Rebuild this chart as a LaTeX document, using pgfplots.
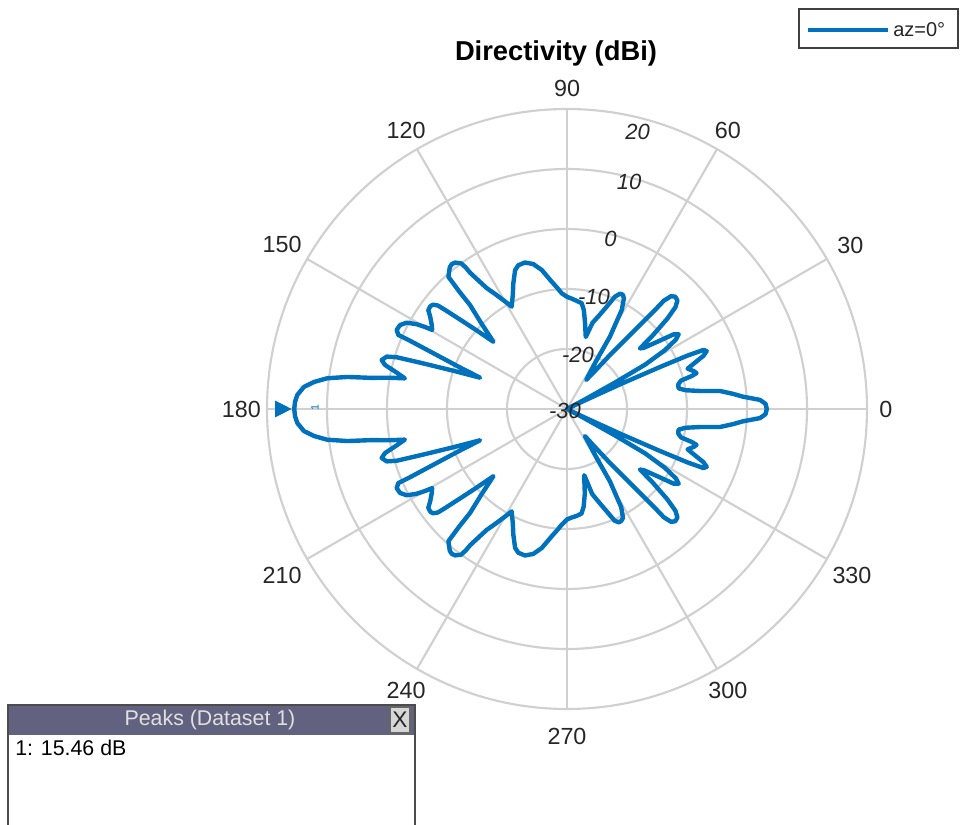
\documentclass[border=0pt]{standalone}
\usepackage{fontspec}
\setmainfont{Liberation Sans}
\usepackage{pgfplots}
\pgfplotsset{compat=1.18}
\usepackage{pgfplotstable}
\definecolor{mblue}{RGB}{0,114,189}
\definecolor{gridc}{RGB}{208,208,208}
\definecolor{labc}{RGB}{38,38,38}
\definecolor{hdr}{RGB}{98,98,128}
\definecolor{btn}{RGB}{214,214,214}

\pgfdeclareplotmark{peaktri}{%
  \pgfpathmoveto{\pgfpoint{-1.9pt}{0pt}}%
  \pgfpathlineto{\pgfpoint{-14.4pt}{6.3pt}}%
  \pgfpathlineto{\pgfpoint{-14.4pt}{-6.3pt}}%
  \pgfpathclose
  \pgfusepathqfill}

\pgfplotstableread{
a d
0 3.3
1.5 3.1
2.7 2.2
4.0 -0.6
5.2 -2.2
6.7 -4.3
7.7 -7.6
9.0 -10.0
10.5 -11.1
12.5 -11.0
14.0 -10.4
14.8 -8.5
15.5 -7.6
16.5 -7.9
18.5 -8.8
20.0 -7.2
21.3 -5.6
22.5 -4.8
23.4 -5.2
23.9 -8
24.3 -13
24.9 -20
25.8 -27
27.0 -30
28.0 -27
28.8 -21
29.6 -15
31.0 -11
32.5 -8.5
33.8 -7.6
35.0 -8.3
36.5 -11
38.5 -13.6
39.7 -14.2
40.5 -11.5
42.0 -7.5
43.2 -5.2
44.5 -4.2
46.0 -4.0
47.3 -4.4
48.2 -5.8
48.4 -8.3
49.4 -13.0
51.5 -18.5
54.0 -22.5
56.5 -24.2
58.8 -20.4
59.3 -16.0
61.1 -11.1
62.8 -9.25
64.0 -8.8
65.3 -8.85
66.9 -9.65
68.8 -11.7
71.0 -13.5
73.5 -15.0
75.4 -17.6
76.5 -16.8
78.1 -15.4
80.3 -13.3
82.1 -12.2
84.9 -11.9
87.5 -11.6
90 -11.3
92.6 -10.7
94.5 -9.8
96.9 -8.6
100.3 -6.45
103.1 -5.2
106.0 -4.6
108.7 -4.7
110.5 -5.3
112.5 -6.8
113.1 -7.2
115.5 -9.0
118.4 -10.6
120.3 -9.0
121.8 -7.6
123.6 -5.8
125.4 -2.2
125.6 -1.0
126.0 0.0
127.4 0.72
128.5 0.85
129.6 0.65
130.8 0.1
131.9 -0.4
132.5 -3.3
133.0 -6.3
135.0 -9.8
137.6 -13.4
139.0 -10.0
139.9 -7.4
140.9 -3.8
141.3 -2.4
142.1 -1.7
143.0 -1.5
144.5 -1.6
146.0 -2.5
148.0 -3.4
149.6 -3.95
150.0 -2.65
150.6 -1.2
151.7 0.34
153.3 1.15
155.1 1.3
156.3 0.7
156.5 -1.4
157.5 -6.5
158.7 -10.6
160.2 -14.6
161.4 -10.0
162.5 -4.3
163.1 -0.33
163.8 1.3
165.2 1.95
166.4 1.2
167.8 -0.8
169.3 -2.5
170.0 0.0
171.0 3.2
171.7 7.0
172.7 10.3
173.9 12.4
175.2 14.0
177.0 15.0
178.5 15.35
180 15.46
181.5 15.35
183.0 15.0
184.8 14.0
186.1 12.4
187.3 10.3
188.3 7.0
189.0 3.2
190.0 0.0
190.7 -2.5
192.2 -0.8
193.6 1.2
194.8 1.95
196.2 1.3
196.9 -0.33
197.5 -4.3
198.6 -10.0
199.8 -14.6
201.3 -10.6
202.5 -6.5
203.5 -1.4
203.7 0.7
204.9 1.3
206.7 1.15
208.3 0.34
209.4 -1.2
210.0 -2.65
210.4 -3.95
212.0 -3.4
214.0 -2.5
215.5 -1.6
217.0 -1.5
217.9 -1.7
218.7 -2.4
219.1 -3.8
220.1 -7.4
221.0 -10.0
222.4 -13.4
225.0 -9.8
227.0 -6.3
227.5 -3.3
228.1 -0.4
229.2 0.1
230.4 0.65
231.5 0.85
232.6 0.72
234.0 0.0
234.4 -1.0
234.6 -2.2
236.4 -5.8
238.2 -7.6
239.7 -9.0
241.6 -10.6
244.5 -9.0
246.9 -7.2
247.5 -6.8
249.5 -5.3
251.3 -4.7
254.0 -4.6
256.9 -5.2
259.7 -6.45
263.1 -8.6
265.5 -9.8
267.4 -10.7
270 -11.6
272.5 -11.9
275.1 -12.1
277.9 -12.4
279.7 -13.5
281.9 -15.6
283.5 -17.6
284.6 -18.6
286.5 -15.2
289.0 -13.5
291.2 -11.7
293.1 -9.75
294.7 -9.2
296.0 -9.3
297.2 -9.6
298.9 -11.3
300.7 -16.0
301.2 -20.4
303.5 -24.6
306.0 -22.5
308.5 -18.5
310.6 -13.0
311.6 -8.3
311.8 -5.8
312.7 -4.4
314.0 -4.0
315.5 -4.2
316.8 -5.2
318.0 -7.5
319.5 -11.5
320.3 -14.2
321.5 -13.6
323.5 -11
325.0 -8.3
326.2 -7.6
327.5 -8.5
329.0 -11
330.4 -15
331.2 -21
332.0 -27
333.0 -30
334.2 -27
335.1 -20
335.7 -13
336.1 -8
336.6 -5.2
337.5 -4.8
338.7 -5.6
340.0 -7.2
341.5 -8.8
343.5 -7.9
344.5 -7.6
345.2 -8.5
346.0 -10.4
347.5 -11.0
349.5 -11.1
351.0 -10.0
352.3 -7.6
353.3 -4.3
354.8 -2.2
356.0 -0.6
357.3 2.2
358.5 3.1
360 3.3
}\patterndata

\pgfplotstableread{
a d
180 15.46
}\peakdata

\begin{document}
\begin{tikzpicture}
\begin{axis}[name=ax, x=0.75pt, y=0.75pt,
  xmin=-567, xmax=394, ymin=-416, ymax=409,
  enlargelimits=false, axis lines=none, clip=false]

% grid
\draw[gridc, line width=1.6pt] (axis cs:0,0) circle[radius=45pt];
\draw[gridc, line width=1.6pt] (axis cs:0,0) circle[radius=90pt];
\draw[gridc, line width=1.6pt] (axis cs:0,0) circle[radius=135pt];
\draw[gridc, line width=1.6pt] (axis cs:0,0) circle[radius=180pt];
\draw[gridc, line width=1.6pt] (axis cs:0,0) circle[radius=225pt];
\draw[gridc, line width=1.6pt] (axis cs:300,0) -- (axis cs:-300,0);
\draw[gridc, line width=1.6pt] (axis cs:0,300) -- (axis cs:0,-300);
\draw[gridc, line width=1.6pt] (axis cs:259.81,150) -- (axis cs:-259.81,-150);
\draw[gridc, line width=1.6pt] (axis cs:150,259.81) -- (axis cs:-150,-259.81);
\draw[gridc, line width=1.6pt] (axis cs:-150,259.81) -- (axis cs:150,-259.81);
\draw[gridc, line width=1.6pt] (axis cs:-259.81,150) -- (axis cs:259.81,-150);

% pattern
\addplot[mblue, line width=3.3pt, line join=round, line cap=round]
  table[x expr={(\thisrow{d}+30)*6*cos(\thisrow{a})},
        y expr={(\thisrow{d}+30)*6*sin(\thisrow{a})}] {\patterndata};

% peak marker
\addplot[mblue, only marks, mark=peaktri]
  table[x expr={(\thisrow{d}+30)*6*cos(\thisrow{a})},
        y expr={(\thisrow{d}+30)*6*sin(\thisrow{a})}] {\peakdata};
\node[text=mblue, font=\fontsize{8}{9}\selectfont, rotate=90] at (axis cs:-252,1) {1};

% angle labels
\node[font=\fontsize{17.5}{19}\selectfont, text=labc, inner sep=0pt, anchor=180] at (axis cs:312,0) {0};
\node[font=\fontsize{17.5}{19}\selectfont, text=labc, inner sep=0pt, anchor=210] at (axis cs:270.2,156) {30};
\node[font=\fontsize{17.5}{19}\selectfont, text=labc, inner sep=0pt, anchor=240] at (axis cs:156,270.2) {60};
\node[font=\fontsize{17.5}{19}\selectfont, text=labc, inner sep=0pt, anchor=270] at (axis cs:0,312) {90};
\node[font=\fontsize{17.5}{19}\selectfont, text=labc, inner sep=0pt, anchor=300] at (axis cs:-156,270.2) {120};
\node[font=\fontsize{17.5}{19}\selectfont, text=labc, inner sep=0pt, anchor=330] at (axis cs:-270.2,156) {150};
\node[font=\fontsize{17.5}{19}\selectfont, text=labc, inner sep=0pt, anchor=0] at (axis cs:-306,0) {180};
\node[font=\fontsize{17.5}{19}\selectfont, text=labc, inner sep=0pt, anchor=30] at (axis cs:-270.2,-158) {210};
\node[font=\fontsize{17.5}{19}\selectfont, text=labc, inner sep=0pt, anchor=60] at (axis cs:-156,-273) {240};
\node[font=\fontsize{17.5}{19}\selectfont, text=labc, inner sep=0pt, anchor=90] at (axis cs:0,-319) {270};
\node[font=\fontsize{17.5}{19}\selectfont, text=labc, inner sep=0pt, anchor=120] at (axis cs:156,-273) {300};
\node[font=\fontsize{17.5}{19}\selectfont, text=labc, inner sep=0pt, anchor=150] at (axis cs:270.2,-158) {330};

% ring labels
\node[font=\itshape\fontsize{16.5}{18}\selectfont, text=labc] at (axis cs:70.5,277) {20};
\node[font=\itshape\fontsize{16.5}{18}\selectfont, text=labc] at (axis cs:62,227) {10};
\node[font=\itshape\fontsize{16.5}{18}\selectfont, text=labc] at (axis cs:43.5,170.5) {0};
\node[font=\itshape\fontsize{16.5}{18}\selectfont, text=labc] at (axis cs:27,112) {-10};
\node[font=\itshape\fontsize{16.5}{18}\selectfont, text=labc] at (axis cs:11,54) {-20};
\node[font=\itshape\fontsize{16.5}{18}\selectfont, text=labc] at (axis cs:-2,-2) {-30};

% title
\node[font=\bfseries\fontsize{20.5}{23}\selectfont, anchor=base] at (axis cs:-11,348.3) {Directivity (dBi)};

% legend
\draw[black!75, line width=0.9pt, fill=white] (axis cs:232,400) rectangle (axis cs:391,361);
\draw[mblue, line width=3pt] (axis cs:241,379) -- (axis cs:321,379);
\node[font=\fontsize{15}{17}\selectfont, text=labc, anchor=west, inner sep=0pt] at (axis cs:326,379) {az=0°};

% peaks table
\fill[white] (axis cs:-559,-416) rectangle (axis cs:-152,-296);
\fill[hdr] (axis cs:-559,-296) rectangle (axis cs:-152,-326);
\draw[black!70, line width=1pt] (axis cs:-559,-416) -- (axis cs:-559,-296) -- (axis cs:-152,-296) -- (axis cs:-152,-416);
\draw[black!60, fill=btn, line width=0.8pt] (axis cs:-177,-298) rectangle (axis cs:-157,-324);
\node[font=\fontsize{17}{19}\selectfont, text=black!85] at (axis cs:-167,-311) {X};
\node[font=\fontsize{16}{18}\selectfont, text=white!88!black] at (axis cs:-357,-311) {Peaks (Dataset 1)};
\node[font=\fontsize{16}{18}\selectfont, text=black, anchor=west, inner sep=0pt] at (axis cs:-552,-339) {1: 15.46 dB};
\end{axis}
\pgfresetboundingbox
\path[use as bounding box] (ax.south west) rectangle (ax.north east);
\end{tikzpicture}
\end{document}
